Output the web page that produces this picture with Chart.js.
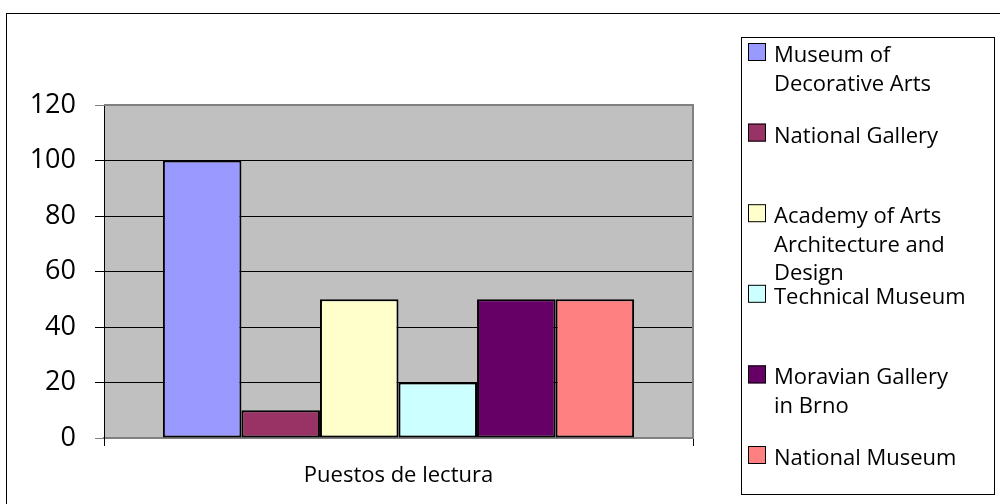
<!DOCTYPE html>
<html>
<head>
<meta charset="utf-8">
<script src="https://cdn.jsdelivr.net/npm/chart.js@4/dist/chart.umd.min.js"></script>
<style>
  html, body { margin: 0; padding: 0; background: #fff; }
  #wrap { width: 1000px; height: 504px; position: relative; }
</style>
</head>
<body>
<div id="wrap"><canvas id="c" width="1000" height="504"></canvas></div>
<script>
const categories = ["Puestos de lectura"];
const seriesNames = [
  "Museum of Decorative Arts",
  "National Gallery",
  "Academy of Arts Architecture and Design",
  "Technical Museum",
  "Moravian Gallery in Brno",
  "National Museum"
];
const seriesValues = [100, 10, 50, 20, 50, 50];
const seriesColors = ["#9999FF", "#993366", "#FFFFCC", "#CCFFFF", "#660066", "#FF8080"];
const yTicks = [0, 20, 40, 60, 80, 100, 120];

const FONT = "'Open Sans', 'DejaVu Sans', sans-serif";

const frame = {
  id: 'frame',
  beforeDraw(chart) {
    const ctx = chart.ctx, a = chart.chartArea;
    ctx.save();
    ctx.fillStyle = '#fff';
    ctx.fillRect(0, 0, chart.width, chart.height);
    ctx.strokeStyle = '#000';
    ctx.lineWidth = 1;
    ctx.strokeRect(6.5, 13.5, 1000, 520);
    ctx.fillStyle = '#C0C0C0';
    ctx.fillRect(a.left, a.top, a.right - a.left, a.bottom - a.top);
    ctx.restore();
  },
  afterDatasetsDraw(chart) {
    const ctx = chart.ctx, a = chart.chartArea;
    ctx.save();
    ctx.strokeStyle = '#808080';
    ctx.lineWidth = 2;
    ctx.beginPath();
    ctx.moveTo(a.left, a.top);
    ctx.lineTo(a.right, a.top);
    ctx.lineTo(a.right, a.bottom);
    ctx.stroke();
    ctx.restore();
  },
  afterDraw(chart) {
    const ctx = chart.ctx;
    ctx.save();
    const bx = 741, by = 37, bw = 253, bh = 457;
    ctx.strokeStyle = '#000';
    ctx.lineWidth = 1;
    ctx.strokeRect(bx + 0.5, by + 0.5, bw, bh);
    ctx.font = "22px " + FONT;
    ctx.textBaseline = 'alphabetic';
    const maxW = 194, lineH = 28.5;
    const step = 80.6;
    chart.data.datasets.forEach((ds, i) => {
      const sy = 43 + i * step;
      ctx.fillStyle = ds.backgroundColor;
      ctx.fillRect(748, sy, 18, 18);
      ctx.strokeStyle = '#000';
      ctx.lineWidth = 1;
      ctx.strokeRect(748.5, sy + 0.5, 17, 17);
      const words = ds.label.split(' ');
      const lines = [];
      let cur = '';
      words.forEach(w => {
        const t = cur ? cur + ' ' + w : w;
        if (ctx.measureText(t).width > maxW && cur) { lines.push(cur); cur = w; }
        else cur = t;
      });
      if (cur) lines.push(cur);
      ctx.fillStyle = '#000';
      lines.forEach((l, k) => ctx.fillText(l, 774, sy + 19 + k * lineH));
    });
    ctx.restore();
  }
};

new Chart(document.getElementById('c'), {
  type: 'bar',
  data: {
    labels: categories,
    datasets: seriesNames.map((name, i) => ({
      label: name,
      data: [seriesValues[i]],
      backgroundColor: seriesColors[i],
      borderColor: '#000',
      borderWidth: 2,
      borderSkipped: false,
      categoryPercentage: 0.8,
      barPercentage: 1.0
    }))
  },
  options: {
    responsive: false,
    animation: false,
    devicePixelRatio: 1,
    layout: { padding: { left: 0, right: 307, top: 105, bottom: 0 } },
    plugins: { legend: { display: false }, tooltip: { enabled: false } },
    scales: {
      x: {
        grid: { display: true, drawOnChartArea: false, drawTicks: true, tickLength: 8, color: '#000', offset: true },
        border: { display: true, color: '#808080', width: 2 },
        ticks: { color: '#000', font: { family: FONT, size: 22 }, padding: 17, maxRotation: 0 },
        afterFit(s) { s.height = 66; }
      },
      y: {
        min: 0, max: 120,
        afterBuildTicks(s) { s.ticks = yTicks.map(v => ({ value: v })); },
        grid: {
          color: c => (c.tick && (c.tick.value === 0 || c.tick.value === 120)) ? '#808080' : '#000',
          lineWidth: 1,
          tickLength: 9
        },
        border: { display: true, color: '#000', width: 1 },
        ticks: { color: '#000', font: { family: FONT, size: 27 }, padding: 19 },
        afterFit(s) { s.width = 104; }
      }
    }
  },
  plugins: [frame]
});
</script>
</body>
</html>
